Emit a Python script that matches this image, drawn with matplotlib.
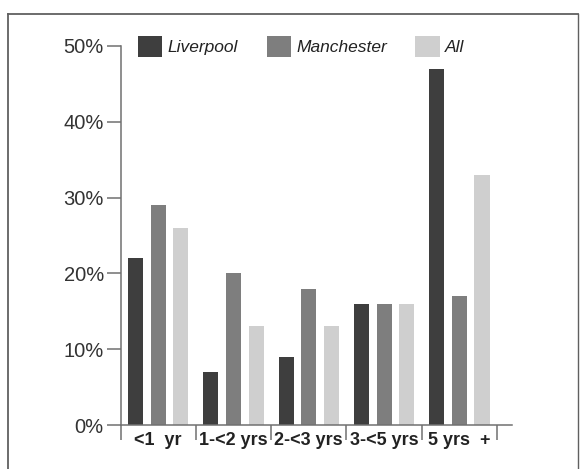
import numpy as np
import matplotlib.pyplot as plt
from matplotlib.lines import Line2D

# share of each group by length of time
categories = ["<1  yr", "1-<2 yrs", "2-<3 yrs", "3-<5 yrs", "5 yrs  +"]
liverpool = [22, 7, 9, 16, 47]
manchester = [29, 20, 18, 16, 17]
all_areas = [26, 13, 13, 16, 33]
series_names = ["Liverpool", "Manchester", "All"]
colors = ["#3e3e3e", "#7e7e7e", "#cfcfcf"]

W, H = 583, 469
fig = plt.figure(figsize=(W / 100, H / 100), dpi=100)
fig.patch.set_facecolor("white")

ax = fig.add_axes([120.5 / W, 1 - 425 / H, 391.6 / W, 379 / H])

x = np.arange(len(categories))
offsets = [-0.3, 0.0, 0.3]
bw = 0.2
for vals, off, col, name in zip([liverpool, manchester, all_areas], offsets, colors, series_names):
    ax.bar(x + off, vals, width=bw, color=col, label=name, zorder=2)

ax.set_xlim(-0.5, 4.7)
ax.set_ylim(0, 50)

for s in ["top", "right"]:
    ax.spines[s].set_visible(False)
for s in ["left", "bottom"]:
    ax.spines[s].set_color("#707070")
    ax.spines[s].set_linewidth(1.1)

ax.set_yticks([0, 10, 20, 30, 40, 50])
ax.set_yticklabels(["0%", "10%", "20%", "30%", "40%", "50%"],
                   family="Liberation Sans", fontsize=14.5, color="#333333")
ax.tick_params(axis="y", direction="out", length=10, width=1.1, color="#707070", pad=2)

# category labels sit between the boundary ticks
ax.set_xticks(x)
ax.set_xticklabels(categories, family="Liberation Sans", fontweight="bold",
                   fontsize=13, color="#222222")
ax.tick_params(axis="x", which="major", length=0, pad=5)
ax.set_xticks(np.arange(-0.5, 5, 1), minor=True)
ax.tick_params(axis="x", which="minor", direction="out", length=11, width=1.1, color="#707070")

leg = ax.legend(loc="center left", bbox_to_anchor=(138 / W, 1 - 46.5 / H),
                bbox_transform=fig.transFigure, ncol=3, frameon=False,
                borderpad=0, borderaxespad=0, handlelength=1.4, handleheight=1.4,
                handletextpad=0.3, columnspacing=1.65,
                prop={"family": "Liberation Sans", "style": "italic", "size": 12.5})
for t in leg.get_texts():
    t.set_color("#222222")

# outer frame
fc = "#606060"
fig.add_artist(Line2D([8 / W, 578 / W], [1 - 14 / H, 1 - 14 / H], transform=fig.transFigure, color=fc, lw=1.3))
fig.add_artist(Line2D([8 / W, 8 / W], [1 - 14 / H, 0], transform=fig.transFigure, color=fc, lw=1.3))
fig.add_artist(Line2D([578 / W, 578 / W], [1 - 14 / H, 0], transform=fig.transFigure, color=fc, lw=1.0))

fig.savefig("out.png", dpi=100)
